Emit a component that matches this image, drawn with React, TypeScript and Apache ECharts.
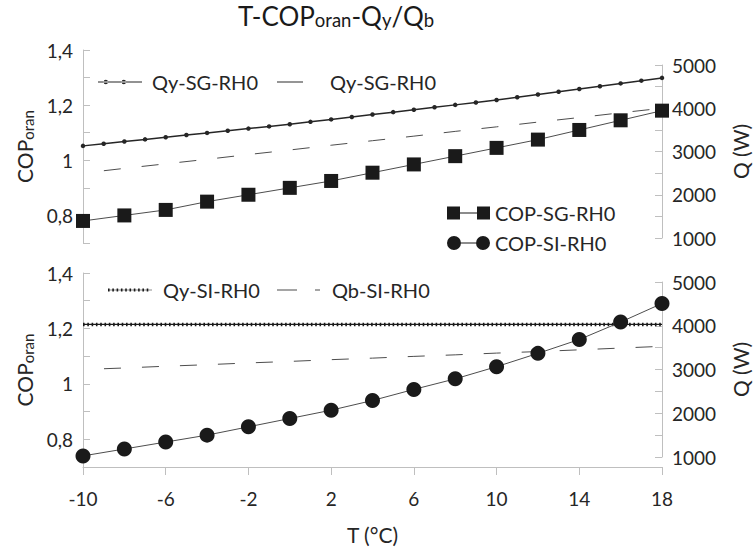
import React, { useEffect, useRef } from "react";
import * as echarts from "echarts";

// ---- data ----
const T2 = [-10, -8, -6, -4, -2, 0, 2, 4, 6, 8, 10, 12, 14, 16, 18];
const T1 = [-10, -9, -8, -7, -6, -5, -4, -3, -2, -1, 0, 1, 2, 3, 4, 5, 6, 7, 8, 9, 10, 11, 12, 13, 14, 15, 16, 17, 18];
const copSG = [0.78, 0.8, 0.82, 0.85, 0.875, 0.9, 0.925, 0.955, 0.985, 1.015, 1.045, 1.075, 1.11, 1.145, 1.18];
const copSI = [0.74, 0.765, 0.79, 0.815, 0.845, 0.875, 0.905, 0.94, 0.98, 1.018, 1.062, 1.11, 1.16, 1.223, 1.29];
const qySG = [3130, 3180, 3230, 3280, 3330, 3380, 3430, 3480, 3530, 3580, 3630, 3686, 3742, 3798, 3854, 3910, 3966, 4022, 4078, 4134, 4190, 4254, 4318, 4382, 4446, 4510, 4574, 4638, 4702];
const qbSG = [2500, 2610, 2715, 2820, 2930, 3035, 3145, 3250, 3355, 3465, 3570, 3680, 3785, 3895, 4000];
const qySI = [4030, 4030, 4030, 4030, 4030, 4030, 4030, 4030, 4030, 4030, 4030, 4030, 4030, 4030, 4030];
const qbSI = [3000, 3035, 3075, 3110, 3150, 3185, 3225, 3260, 3300, 3335, 3375, 3410, 3450, 3490, 3530];
const copTicks = [0.8, 1, 1.2, 1.4];
const qTicks = [1000, 2000, 3000, 4000, 5000];

const pairs = (xs: number[], ys: number[]) => xs.map((x, i) => [x, ys[i]]);

const FONT = "Lato, 'Open Sans', sans-serif";
const TXT = "#262626";
const AXC = "#bfbfbf";

function denseIcon() {
  let d = "M0,1.2H44V1.8H0Z";
  for (let x = 0; x <= 42.5; x += 4.3) d += ` M${x.toFixed(1)},0h1.6v3h-1.6Z`;
  return "path://" + d;
}

export default function App() {
  const ref = useRef<HTMLDivElement>(null);
  useEffect(() => {
    if (!ref.current) return;
    const chart = echarts.init(ref.current, undefined, { renderer: "svg" });
    const richName = {
      a: { fontSize: 21, fontFamily: FONT, color: TXT, fontWeight: "normal", lineHeight: 26, verticalAlign: "bottom" },
      s: { fontSize: 15, fontFamily: FONT, color: TXT, fontWeight: "normal", lineHeight: 15, verticalAlign: "bottom" },
    };
    const richTitle = {
      a: { fontSize: 26, fontFamily: FONT, color: "#1a1a1a", fontWeight: "normal", lineHeight: 30, verticalAlign: "bottom" },
      s: { fontSize: 18.5, fontFamily: FONT, color: "#1a1a1a", fontWeight: "normal", lineHeight: 18, verticalAlign: "bottom" },
    };
    const copFmt = (v: number) => {
      const r = Math.round(v * 10) / 10;
      return copTicks.some((t) => Math.abs(t - r) < 1e-6) ? String(r).replace(".", ",") : "";
    };
    const qFmt = (v: number) => (qTicks.indexOf(Math.round(v)) >= 0 ? String(Math.round(v)) : "");
    const leftAxis = (grid: number) => ({
      type: "value",
      gridIndex: grid,
      position: "left",
      min: 0.7,
      max: 1.4,
      interval: 0.1,
      name: "{a|COP}{s|oran}",
      nameLocation: "middle",
      nameRotate: 90,
      nameGap: 48,
      nameTextStyle: { rich: richName },
      axisLine: { show: true, onZero: false, lineStyle: { color: AXC, width: 1 } },
      axisTick: { show: true, inside: true, length: 7, lineStyle: { color: AXC } },
      axisLabel: { formatter: copFmt, fontSize: 19, fontFamily: FONT, color: TXT, margin: 10 },
      splitLine: { show: false },
    });
    const rightAxis = (grid: number) => ({
      type: "value",
      gridIndex: grid,
      position: "right",
      min: 1000,
      max: 5000,
      interval: 500,
      name: "Q (W)",
      nameLocation: "middle",
      nameRotate: 90,
      nameGap: 68,
      nameTextStyle: { fontSize: 21, fontFamily: FONT, color: TXT },
      axisLine: { show: true, onZero: false, lineStyle: { color: AXC, width: 1 } },
      axisTick: { show: true, inside: true, length: 7, lineStyle: { color: AXC } },
      axisLabel: { formatter: qFmt, fontSize: 19, fontFamily: FONT, color: TXT, margin: 10 },
      splitLine: { show: false },
    });
    const hiddenX = (grid: number) => ({ type: "value", gridIndex: grid, min: -10, max: 18, show: false });
    const legendText = { fontSize: 20, fontFamily: FONT, color: TXT, lineHeight: 22 };
    const fmtName = (n: string) => (n === "Qb-SG-RH0" ? "Qy-SG-RH0" : n);
    const lg = (name: string, icon: string, left: number, top: number, w: number, h: number, pad = 0) => ({
      data: [{ name, icon }],
      left,
      top,
      itemWidth: w,
      itemHeight: h,
      padding: 0,
      formatter: fmtName,
      itemStyle: { borderWidth: 0 },
      textStyle: { ...legendText, padding: [0, 0, 0, pad] },
    });

    chart.setOption({
      animation: false,
      backgroundColor: "#ffffff",
      title: {
        text: "{a|T-COP}{s|oran}{a|-Q}{s|y}{a|/Q}{s|b}",
        left: 238,
        top: -1,
        padding: 0,
        textStyle: { rich: richTitle },
      },
      grid: [
        { left: 83, width: 579, top: 50, height: 193, outerBoundsMode: "none" },
        { left: 83, width: 579, top: 65, height: 173, outerBoundsMode: "none" },
        { left: 83, width: 579, top: 273, height: 194, outerBoundsMode: "none" },
        { left: 83, width: 579, top: 282, height: 175, outerBoundsMode: "none" },
      ],
      xAxis: [
        hiddenX(0),
        hiddenX(1),
        {
          type: "value",
          gridIndex: 2,
          min: -10,
          max: 18,
          interval: 4,
          name: "T (°C)",
          nameLocation: "middle",
          nameGap: 57,
          nameTextStyle: { fontSize: 21, fontFamily: FONT, color: TXT },
          axisLine: { show: true, onZero: false, lineStyle: { color: AXC, width: 1 } },
          axisTick: { show: true, length: 8, lineStyle: { color: AXC } },
          axisLabel: { fontSize: 19, fontFamily: FONT, color: TXT, margin: 22 },
          splitLine: { show: false },
        },
        hiddenX(3),
      ],
      yAxis: [leftAxis(0), rightAxis(1), leftAxis(2), rightAxis(3)],
      legend: [
        lg("Qy-SG-RH0", "path://M0,1.8H44V3H0Z M5.6,2.4a2.2,2.2 0 1,0 4.4,0a2.2,2.2 0 1,0 -4.4,0Z M23.6,2.4a2.2,2.2 0 1,0 4.4,0a2.2,2.2 0 1,0 -4.4,0Z", 98, 71, 44, 4.8, 5),
        lg("Qb-SG-RH0", "path://M0,0H26V1.2H0Z", 277, 71, 26, 1.2, 22),
        lg("COP-SG-RH0", "path://M0,0H13V13H0Z M13,6H30V7H13Z M30,0H43V13H30Z", 447, 202, 43, 13),
        lg("COP-SI-RH0", "path://M0,7a7,7 0 1,0 14,0a7,7 0 1,0 -14,0Z M14,6.5H29V7.5H14Z M29,7a7,7 0 1,0 14,0a7,7 0 1,0 -14,0Z", 447, 232, 43, 14),
        lg("Qy-SI-RH0", denseIcon(), 108, 279, 44, 3, 6),
        lg("Qb-SI-RH0", "path://M0,0H20V1.2H0Z M38,0H43V1.2H38Z", 277, 279, 43, 1.2, 7),
      ],
      series: [
        {
          name: "Qb-SG-RH0",
          type: "line",
          xAxisIndex: 1,
          yAxisIndex: 1,
          data: pairs(T2, qbSG),
          symbol: "none",
          itemStyle: { color: "#4d4d4d" },
          lineStyle: { color: "#4d4d4d", width: 1, type: [17, 21], dashOffset: 17 },
        },
        {
          name: "Qy-SG-RH0",
          type: "line",
          xAxisIndex: 1,
          yAxisIndex: 1,
          data: pairs(T1, qySG),
          symbol: "circle",
          symbolSize: 4.5,
          itemStyle: { color: "#262626" },
          lineStyle: { color: "#262626", width: 1.5 },
        },
        {
          name: "COP-SG-RH0",
          type: "line",
          xAxisIndex: 0,
          yAxisIndex: 0,
          data: pairs(T2, copSG),
          symbol: "rect",
          symbolSize: 14,
          z: 5,
          itemStyle: { color: "#1a1a1a" },
          lineStyle: { color: "#4d4d4d", width: 1 },
        },
        {
          name: "Qb-SI-RH0",
          type: "line",
          xAxisIndex: 3,
          yAxisIndex: 3,
          data: pairs(T2, qbSI),
          symbol: "none",
          itemStyle: { color: "#4d4d4d" },
          lineStyle: { color: "#4d4d4d", width: 1, type: [17, 21], dashOffset: 17 },
        },
        {
          name: "Qy-SI-RH0",
          type: "line",
          xAxisIndex: 3,
          yAxisIndex: 3,
          data: pairs(T2, qySI),
          symbol: "none",
          itemStyle: { color: "#1a1a1a" },
          lineStyle: { color: "#1a1a1a", width: 1.2 },
        },
        {
          name: "Qy-SI-RH0 dots",
          type: "line",
          xAxisIndex: 3,
          yAxisIndex: 3,
          data: pairs(T2, qySI),
          symbol: "none",
          silent: true,
          itemStyle: { color: "#1a1a1a" },
          lineStyle: { color: "#1a1a1a", width: 3.5, type: [1.6, 2.7] },
        },
        {
          name: "COP-SI-RH0",
          type: "line",
          xAxisIndex: 2,
          yAxisIndex: 2,
          data: pairs(T2, copSI),
          symbol: "circle",
          symbolSize: 15,
          z: 5,
          itemStyle: { color: "#1a1a1a" },
          lineStyle: { color: "#4d4d4d", width: 1 },
        },
      ],
    });
    return () => chart.dispose();
  }, []);
  return <div ref={ref} style={{ position: "fixed", left: 0, top: 0, width: 753, height: 552 }} />;
}
